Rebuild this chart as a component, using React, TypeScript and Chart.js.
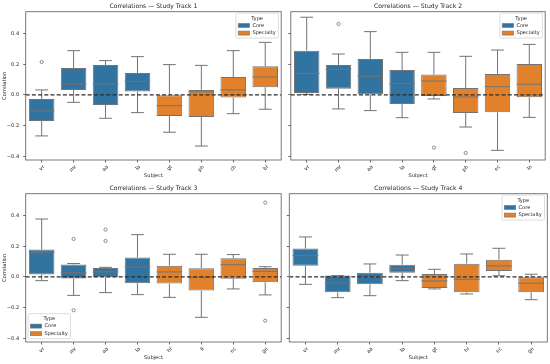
import React, { useEffect, useRef } from 'react';
import { Chart, registerables } from 'chart.js';

Chart.register(...registerables);

// ---------- data ----------
const yTickValues = [-0.4, -0.2, 0.0, 0.2, 0.4];
const yMin = -0.424;
const yMax = 0.543;
const typeNames = ['Core', 'Specialty'];
const typeColors = ['#3274a1', '#e1812c'];

// Study Track 1
const t1Labels = ['vr', 'mr', 'aa', 'la', 'gt', 'ph', 'ch', 'bi'];
const t1Types = ['Core', 'Core', 'Core', 'Core', 'Specialty', 'Specialty', 'Specialty', 'Specialty'];
const t1Low = [-0.267, -0.048, -0.152, -0.115, -0.243, -0.333, -0.122, -0.093];
const t1Q1 = [-0.170, 0.033, -0.065, 0.022, -0.137, -0.143, -0.017, 0.050];
const t1Med = [-0.104, 0.070, 0.072, 0.089, -0.070, 0.020, 0.033, 0.117];
const t1Q3 = [-0.026, 0.176, 0.196, 0.143, 0.000, 0.033, 0.117, 0.187];
const t1High = [0.033, 0.289, 0.224, 0.250, 0.198, 0.193, 0.289, 0.343];
const t1Outliers = [{ label: 'vr', value: 0.215 }];

// Study Track 2
const t2Labels = ['vr', 'mr', 'aa', 'la', 'gt', 'ph', 'ec', 'lo'];
const t2Types = ['Core', 'Core', 'Core', 'Core', 'Specialty', 'Specialty', 'Specialty', 'Specialty'];
const t2Low = [0.004, -0.091, -0.102, -0.148, -0.026, -0.209, -0.361, -0.146];
const t2Q1 = [0.013, 0.041, 0.004, -0.059, -0.007, -0.117, -0.113, -0.015];
const t2Med = [0.141, 0.167, 0.122, 0.074, 0.091, -0.013, 0.054, 0.070];
const t2Q3 = [0.289, 0.196, 0.235, 0.163, 0.133, 0.046, 0.137, 0.202];
const t2High = [0.507, 0.267, 0.413, 0.278, 0.278, 0.252, 0.293, 0.330];
const t2Outliers = [
  { label: 'mr', value: 0.463 },
  { label: 'gt', value: -0.343 },
  { label: 'ph', value: -0.378 },
];

// Study Track 3
const t3Labels = ['vr', 'mr', 'aa', 'la', 'hi', 'li', 'ec', 'ge'];
const t3Types = ['Core', 'Core', 'Core', 'Core', 'Specialty', 'Specialty', 'Specialty', 'Specialty'];
const t3Low = [-0.024, -0.120, -0.102, -0.115, -0.133, -0.263, -0.078, -0.117];
const t3Q1 = [0.016, -0.010, -0.002, -0.041, -0.043, -0.089, -0.011, -0.035];
const t3Med = [0.161, 0.028, 0.034, 0.065, 0.033, -0.002, 0.080, 0.037];
const t3Q3 = [0.179, 0.081, 0.058, 0.127, 0.074, 0.057, 0.122, 0.059];
const t3High = [0.378, 0.088, 0.063, 0.276, 0.148, 0.148, 0.146, 0.067];
const t3Outliers = [
  { label: 'mr', value: 0.248 },
  { label: 'mr', value: -0.217 },
  { label: 'aa', value: 0.309 },
  { label: 'aa', value: 0.235 },
  { label: 'ge', value: 0.485 },
  { label: 'ge', value: -0.285 },
];

// Study Track 4
const t4Labels = ['vr', 'mr', 'aa', 'la', 'gt', 'hi', 'ec', 'ge'];
const t4Types = ['Core', 'Core', 'Core', 'Core', 'Specialty', 'Specialty', 'Specialty', 'Specialty'];
const t4Low = [-0.048, -0.135, -0.122, -0.024, -0.078, -0.111, 0.008, -0.148];
const t4Q1 = [0.074, -0.100, -0.048, 0.028, -0.072, -0.100, 0.039, -0.100];
const t4Med = [0.139, -0.039, 0.000, 0.054, -0.026, -0.015, 0.072, -0.041];
const t4Q3 = [0.185, 0.009, 0.028, 0.080, 0.020, 0.087, 0.113, -0.002];
const t4High = [0.261, 0.009, 0.085, 0.143, 0.050, 0.150, 0.187, 0.018];
const t4Outliers: { label: string; value: number }[] = [];

// ---------- styling ----------
const FONT = '"DejaVu Sans", sans-serif';
const LINE = '#737373';
const TEXT = '#262626';

type PanelData = {
  title: string;
  labels: string[];
  types: string[];
  low: number[];
  q1: number[];
  med: number[];
  q3: number[];
  high: number[];
  outliers: { label: string; value: number }[];
};

type Layout = {
  left: number;
  top: number;
  w: number;
  h: number;
  yWidth: number;
  padRight: number;
  padTop: number;
  xHeight: number;
  showY: boolean;
  legend: 'ur' | 'll';
};

const panels: { data: PanelData; layout: Layout }[] = [
  {
    data: { title: 'Correlations \u2014 Study Track 1', labels: t1Labels, types: t1Types, low: t1Low, q1: t1Q1, med: t1Med, q3: t1Q3, high: t1High, outliers: t1Outliers },
    layout: { left: 0, top: 0, w: 286, h: 182, yWidth: 25.7, padRight: 3.3, padTop: 11.7, xHeight: 22, showY: true, legend: 'ur' },
  },
  {
    data: { title: 'Correlations \u2014 Study Track 2', labels: t2Labels, types: t2Types, low: t2Low, q1: t2Q1, med: t2Med, q3: t2Q3, high: t2High, outliers: t2Outliers },
    layout: { left: 286, top: 0, w: 264, h: 182, yWidth: 3.3, padRight: 2.7, padTop: 11.7, xHeight: 22, showY: false, legend: 'ur' },
  },
  {
    data: { title: 'Correlations \u2014 Study Track 3', labels: t3Labels, types: t3Types, low: t3Low, q1: t3Q1, med: t3Med, q3: t3Q3, high: t3High, outliers: t3Outliers },
    layout: { left: 0, top: 182, w: 286, h: 182, yWidth: 25.7, padRight: 3.3, padTop: 11.7, xHeight: 22, showY: true, legend: 'll' },
  },
  {
    data: { title: 'Correlations \u2014 Study Track 4', labels: t4Labels, types: t4Types, low: t4Low, q1: t4Q1, med: t4Med, q3: t4Q3, high: t4High, outliers: t4Outliers },
    layout: { left: 286, top: 182, w: 264, h: 182, yWidth: 3.3, padRight: 2.7, padTop: 11.7, xHeight: 22, showY: false, legend: 'ur' },
  },
];

function fmtTick(v: number): string {
  const s = Math.abs(v) < 1e-9 ? '0.0' : v.toFixed(1);
  return s.replace('-', '\u2212');
}

function drawLegend(ctx: CanvasRenderingContext2D, x: number, y: number) {
  const w = 42.5;
  const h = 25;
  const r = 1.5;
  ctx.save();
  ctx.beginPath();
  ctx.moveTo(x + r, y);
  ctx.lineTo(x + w - r, y);
  ctx.quadraticCurveTo(x + w, y, x + w, y + r);
  ctx.lineTo(x + w, y + h - r);
  ctx.quadraticCurveTo(x + w, y + h, x + w - r, y + h);
  ctx.lineTo(x + r, y + h);
  ctx.quadraticCurveTo(x, y + h, x, y + h - r);
  ctx.lineTo(x, y + r);
  ctx.quadraticCurveTo(x, y, x + r, y);
  ctx.closePath();
  ctx.fillStyle = 'rgba(255,255,255,0.8)';
  ctx.fill();
  ctx.strokeStyle = '#d4d4d4';
  ctx.lineWidth = 0.8;
  ctx.stroke();
  ctx.font = `5.1px ${FONT}`;
  ctx.fillStyle = TEXT;
  ctx.textBaseline = 'middle';
  ctx.textAlign = 'center';
  ctx.fillText('Type', x + w / 2, y + 5.3);
  ctx.textAlign = 'left';
  typeNames.forEach((name, i) => {
    const cy = y + 12.4 + 7.6 * i;
    ctx.fillStyle = typeColors[i];
    ctx.fillRect(x + 2.3, cy - 2, 11.4, 4);
    ctx.strokeStyle = LINE;
    ctx.lineWidth = 0.6;
    ctx.strokeRect(x + 2.3, cy - 2, 11.4, 4);
    ctx.fillStyle = TEXT;
    ctx.fillText(name, x + 16.5, cy);
  });
  ctx.restore();
}

function Panel({ data, layout }: { data: PanelData; layout: Layout }) {
  const ref = useRef<HTMLCanvasElement | null>(null);

  useEffect(() => {
    const canvas = ref.current;
    if (!canvas) return;

    const coreBoxes = data.labels.map((_, i) => (data.types[i] === 'Core' ? [data.q1[i], data.q3[i]] : null));
    const specBoxes = data.labels.map((_, i) => (data.types[i] === 'Specialty' ? [data.q1[i], data.q3[i]] : null));
    const outlierPts = data.outliers.map((o) => ({ x: o.label, y: o.value }));

    const boxPlugin = {
      id: 'boxExtras',
      beforeDatasetsDraw(chart: any) {
        const ctx = chart.ctx as CanvasRenderingContext2D;
        const ys = chart.scales.y;
        ctx.save();
        ctx.strokeStyle = LINE;
        ctx.lineWidth = 1;
        data.labels.forEach((_, i) => {
          const di = data.types[i] === 'Core' ? 0 : 1;
          const el = chart.getDatasetMeta(di).data[i];
          if (!el) return;
          const cx = el.x;
          const capHalf = el.width / 4;
          const yLow = ys.getPixelForValue(data.low[i]);
          const yQ1 = ys.getPixelForValue(data.q1[i]);
          const yQ3 = ys.getPixelForValue(data.q3[i]);
          const yHigh = ys.getPixelForValue(data.high[i]);
          ctx.beginPath();
          ctx.moveTo(cx, yQ1);
          ctx.lineTo(cx, yLow);
          ctx.moveTo(cx - capHalf, yLow);
          ctx.lineTo(cx + capHalf, yLow);
          ctx.moveTo(cx, yQ3);
          ctx.lineTo(cx, yHigh);
          ctx.moveTo(cx - capHalf, yHigh);
          ctx.lineTo(cx + capHalf, yHigh);
          ctx.stroke();
        });
        ctx.restore();
      },
      afterDatasetsDraw(chart: any) {
        const ctx = chart.ctx as CanvasRenderingContext2D;
        const ys = chart.scales.y;
        const area = chart.chartArea;
        ctx.save();
        ctx.strokeStyle = LINE;
        ctx.lineWidth = 1;
        data.labels.forEach((_, i) => {
          const di = data.types[i] === 'Core' ? 0 : 1;
          const el = chart.getDatasetMeta(di).data[i];
          if (!el) return;
          const half = el.width / 2;
          const ym = ys.getPixelForValue(data.med[i]);
          ctx.beginPath();
          ctx.moveTo(el.x - half, ym);
          ctx.lineTo(el.x + half, ym);
          ctx.stroke();
        });
        // zero reference line
        const y0 = ys.getPixelForValue(0);
        ctx.strokeStyle = '#2b2b2b';
        ctx.lineWidth = 1.3;
        ctx.setLineDash([4, 2.2]);
        ctx.beginPath();
        ctx.moveTo(area.left, y0);
        ctx.lineTo(area.right, y0);
        ctx.stroke();
        ctx.restore();
      },
      afterDraw(chart: any) {
        const ctx = chart.ctx as CanvasRenderingContext2D;
        const area = chart.chartArea;
        ctx.save();
        ctx.strokeStyle = '#6a6a6a';
        ctx.lineWidth = 0.9;
        ctx.strokeRect(area.left, area.top, area.right - area.left, area.bottom - area.top);
        ctx.font = `6.1px ${FONT}`;
        ctx.fillStyle = TEXT;
        ctx.textAlign = 'center';
        ctx.textBaseline = 'middle';
        ctx.fillText(data.title, (area.left + area.right) / 2, area.top - 5.6);
        ctx.restore();
        if (layout.legend === 'ur') {
          drawLegend(ctx, area.right - 2.8 - 42.5, area.top + 1.4);
        } else {
          drawLegend(ctx, area.left + 2.3, area.bottom - 3.3 - 25);
        }
      },
    };

    const tickFont = { family: FONT, size: 5.1 };

    const chart = new Chart(canvas, {
      type: 'bar',
      data: {
        labels: data.labels,
        datasets: [
          {
            label: typeNames[0],
            data: coreBoxes as any,
            backgroundColor: typeColors[0],
            borderColor: LINE,
            borderWidth: 1,
            borderSkipped: false,
            grouped: false,
            barPercentage: 0.8,
            categoryPercentage: 1.0,
          } as any,
          {
            label: typeNames[1],
            data: specBoxes as any,
            backgroundColor: typeColors[1],
            borderColor: LINE,
            borderWidth: 1,
            borderSkipped: false,
            grouped: false,
            barPercentage: 0.8,
            categoryPercentage: 1.0,
          } as any,
          {
            type: 'line',
            label: 'outliers',
            data: outlierPts as any,
            showLine: false,
            pointRadius: 1.6,
            pointBackgroundColor: 'rgba(0,0,0,0)',
            pointBorderColor: LINE,
            pointBorderWidth: 0.8,
          } as any,
        ],
      },
      options: {
        animation: false,
        responsive: false,
        maintainAspectRatio: false,
        devicePixelRatio: 1,
        layout: { padding: { left: 0, right: layout.padRight, top: layout.padTop, bottom: 0 } },
        plugins: {
          legend: { display: false },
          title: { display: false },
          tooltip: { enabled: false },
        },
        scales: {
          x: {
            type: 'category',
            offset: true,
            grid: { offset: false, drawOnChartArea: false, drawTicks: true, tickLength: 2.5, color: '#444', lineWidth: 0.8 },
            border: { display: false },
            ticks: { autoSkip: false, minRotation: 45, maxRotation: 45, font: tickFont, color: TEXT, padding: 1.5, labelOffset: 2 },
            title: { display: true, text: 'Subject', font: tickFont, color: TEXT, padding: { top: 0, bottom: 3 } },
            afterFit: (s: any) => {
              s.height = layout.xHeight;
            },
          },
          y: {
            type: 'linear',
            min: yMin,
            max: yMax,
            afterBuildTicks: (s: any) => {
              s.ticks = yTickValues.map((v) => ({ value: v }));
            },
            afterFit: (s: any) => {
              s.width = layout.yWidth;
            },
            grid: { drawOnChartArea: false, drawTicks: true, tickLength: 2.5, color: '#444', lineWidth: 0.8 },
            border: { display: false },
            ticks: {
              display: layout.showY,
              font: tickFont,
              color: TEXT,
              padding: 4,
              callback: (v: any) => fmtTick(Number(v)),
            },
            title: { display: layout.showY, text: 'Correlation', font: tickFont, color: TEXT, padding: { top: 2, bottom: 0 } },
          },
        },
      } as any,
      plugins: [boxPlugin],
    });

    return () => chart.destroy();
  }, [data, layout]);

  return (
    <canvas
      ref={ref}
      width={layout.w}
      height={layout.h}
      style={{ position: 'absolute', left: layout.left, top: layout.top, width: layout.w, height: layout.h }}
    />
  );
}

export default function App() {
  return (
    <div style={{ position: 'fixed', left: 0, top: 0, width: 550, height: 364, background: '#ffffff', overflow: 'hidden' }}>
      {panels.map((p, i) => (
        <Panel key={i} data={p.data} layout={p.layout} />
      ))}
    </div>
  );
}
